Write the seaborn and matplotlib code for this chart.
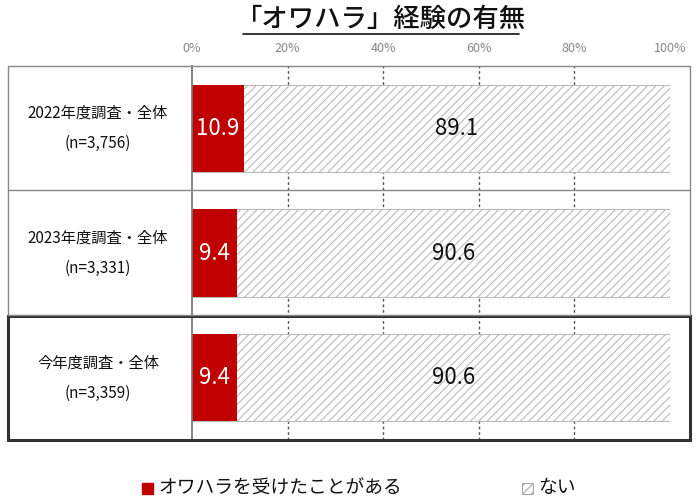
import matplotlib
matplotlib.use("Agg")
import matplotlib.pyplot as plt
import seaborn as sns
import pandas as pd
from matplotlib.patches import Rectangle
from matplotlib.lines import Line2D

sns.set_theme(style="white")
plt.rcParams['font.family'] = ['Noto Sans CJK JP', 'DejaVu Sans']
plt.rcParams['hatch.color'] = "#C8C8C8"
plt.rcParams['hatch.linewidth'] = 0.8

categories = ["2022年度調査・全体\n(n=3,756)", "2023年度調査・全体\n(n=3,331)", "今年度調査・全体\n(n=3,359)"]
yes_vals = [10.9, 9.4, 9.4]
no_vals = [89.1, 90.6, 90.6]
ticks = [0, 20, 40, 60, 80, 100]
tick_labels = ["0%", "20%", "40%", "60%", "80%", "100%"]
series_names = ["オワハラを受けたことがある", "ない"]
RED = "#C00000"

W, H = 700, 499
fig = plt.figure(figsize=(7, 4.99), dpi=100)
L, R, T, B = 192, 670, 66, 440
ax = fig.add_axes([L / W, 1 - B / H, (R - L) / W, (B - T) / H])

df = pd.DataFrame({"cat": categories, "yes": yes_vals, "no": no_vals})
df["total"] = df["yes"] + df["no"]
sns.barplot(data=df, x="total", y="cat", orient="h", color="white", width=0.7,
            edgecolor="#BBBBBB", linewidth=0.8, hatch="////", ax=ax)
sns.barplot(data=df, x="yes", y="cat", orient="h", color=RED, width=0.7,
            edgecolor=RED, linewidth=0, saturation=1, ax=ax)
for p in ax.patches[:3]:
    p.set_edgecolor("#BBBBBB")

for i, (y, n) in enumerate(zip(yes_vals, no_vals)):
    ax.text(y / 2, i, f"{y}", color="white", ha="center", va="center", fontsize=16)
    ax.text(y + n / 2, i, f"{n}", color="#111111", ha="center", va="center", fontsize=16)

ax.set_xlim(0, 100)
ax.set_ylim(2.5, -0.5)
ax.set_xticks(ticks)
ax.set_xticklabels(tick_labels, color="#888888", fontsize=9)
ax.xaxis.tick_top()
ax.tick_params(axis="x", length=0, pad=8)
ax.set_yticks([])
ax.set_xlabel(""); ax.set_ylabel("")
for x in ticks[1:-1]:
    ax.axvline(x, color="#555555", linestyle=(0, (2, 2)), linewidth=1, zorder=0)
for s in ["top", "right", "bottom"]:
    ax.spines[s].set_visible(False)
ax.spines["left"].set_color("#777777")
ax.set_axisbelow(True)

def fx(px): return px / W
def fy(py): return 1 - py / H

for py in [66, 190, 315]:
    fig.add_artist(Line2D([fx(8), fx(690)], [fy(py), fy(py)], color="#888888", lw=1))
fig.add_artist(Line2D([fx(8), fx(8)], [fy(66), fy(315)], color="#888888", lw=1))
fig.add_artist(Line2D([fx(690), fx(690)], [fy(66), fy(315)], color="#888888", lw=1))
fig.add_artist(Rectangle((fx(8), fy(440)), fx(682), (440 - 316) / H, fill=False,
                         edgecolor="#333333", lw=2.2))

for i, c in enumerate(categories):
    yc = [128, 253, 378][i]
    fig.text(fx(98), fy(yc), c, ha="center", va="center", fontsize=11, linespacing=2.0, color="#111111")

fig.text(fx(381), fy(19), "「オワハラ」経験の有無", ha="center", va="center", fontsize=19,
         color="#111111", fontweight="medium")
fig.add_artist(Line2D([fx(243), fx(519)], [fy(34), fy(34)], color="#111111", lw=1.2))

fig.add_artist(Rectangle((fx(142), fy(494)), 11 / W, 11 / H, color=RED))
fig.text(fx(158), fy(488), series_names[0], va="center", fontsize=13.5, color="#111111")
fig.add_artist(Rectangle((fx(522), fy(494)), 11 / W, 11 / H, facecolor="white",
                         edgecolor="#AAAAAA", hatch="////", lw=0.8))
fig.text(fx(538), fy(488), series_names[1], va="center", fontsize=13.5, color="#111111")

fig.savefig("out.png", dpi=100)
